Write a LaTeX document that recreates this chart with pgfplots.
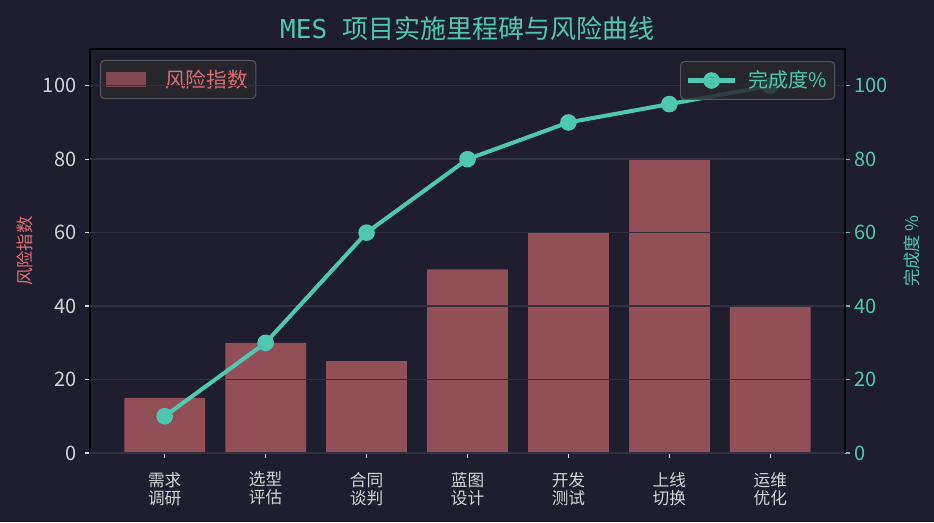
\documentclass[border=0pt]{standalone}
\usepackage{fontspec}
\setmainfont{Noto Sans CJK SC}
\newfontfamily\monofont{DejaVu Sans Mono}
\usepackage{pgfplots}
\pgfplotsset{compat=1.18}
\definecolor{bgc}{HTML}{1E1E2E}
\definecolor{barc}{HTML}{934F58}
\definecolor{tealc}{HTML}{4EC9B0}
\definecolor{redc}{HTML}{E06C75}
\definecolor{tickc}{HTML}{D4D4D4}
\definecolor{gridc}{RGB}{50,49,65}
\definecolor{legc}{RGB}{40,40,44}
\definecolor{legb}{RGB}{85,85,90}
\begin{document}
\begin{tikzpicture}
\fill[bgc] (0,0) rectangle (700.5pt,391.5pt);
\begin{axis}[
  at={(67.5pt,51.75pt)}, anchor=south west,
  scale only axis, width=566.25pt, height=303pt,
  xmin=-0.74, xmax=6.74, ymin=0, ymax=110,
  enlargelimits=false,
  axis line style={black, line width=1.1pt},
  tick align=outside,
  major tick length=3.75pt,
  xtick pos=bottom, ytick pos=left,
  every tick/.style={tickc, line width=1pt},
  xtick={0,1,2,3,4,5,6},
  xticklabels={{需求\\调研},{选型\\评估},{合同\\谈判},{蓝图\\设计},{开发\\测试},{上线\\切换},{运维\\优化}},
  xticklabel style={align=center, text=tickc, font=\fontsize{12.5}{13.5}\selectfont, yshift=-7pt},
  ytick={0,20,40,60,80,100},
  yticklabel style={text=tickc, font=\fontsize{15}{17}\selectfont, xshift=-3pt},
  /pgf/number format/assume math mode=true,
  ylabel={风险指数},
  ylabel style={at={(axis description cs:-0.086,0.5)}, anchor=center, text=redc, font=\fontsize{13}{15}\selectfont},
  title={{\monofont MES }项目实施里程碑与风险曲线},
  title style={at={(axis description cs:0.5,1.032)}, anchor=center, yshift=0pt, text=tealc, font=\fontsize{19.5}{22}\selectfont},
  legend style={at={(axis description cs:0.0132,0.973)}, anchor=north west,
    fill=legc, fill opacity=0.85, text opacity=1, draw=legb, line width=0.8pt,
    rounded corners=3pt, text=redc, font=\fontsize{15.5}{17}\selectfont,
    inner xsep=4pt, inner ysep=5pt},
]
\addplot[ybar, bar width=0.8, bar shift=0pt, fill=barc, draw=none,
  legend image code/.code={\path[draw=none,fill=none] (0pt,0pt) -- (42.5pt,0pt); \fill[barc, sharp corners] (0pt,-5.6pt) rectangle (30pt,5.6pt);}]
  coordinates {(0,15) (1,30) (2,25) (3,50) (4,60) (5,80) (6,40)};
\addlegendentry{风险指数}
\end{axis}
\begin{axis}[
  at={(67.5pt,51.75pt)}, anchor=south west,
  scale only axis, width=566.25pt, height=303pt,
  xmin=-0.74, xmax=6.74, ymin=0, ymax=110,
  enlargelimits=false,
  axis x line=none,
  axis y line*=right,
  axis line style={black, line width=1.1pt},
  tick align=outside,
  major tick length=3.75pt,
  every tick/.style={tealc, line width=1pt},
  ytick={0,20,40,60,80,100},
  ymajorgrids,
  grid style={gridc, line width=1.1pt},
  yticklabel style={text=tealc, font=\fontsize{15}{17}\selectfont},
  /pgf/number format/assume math mode=true,
  ylabel={完成度 \%},
  ylabel style={at={(axis description cs:1.0887,0.5)}, anchor=center, text=tealc, font=\fontsize{13}{15}\selectfont},
  legend style={at={(axis description cs:0.987,0.970)}, anchor=north east,
    fill=legc, fill opacity=0.85, text opacity=1, draw=legb, line width=0.8pt,
    rounded corners=3pt, text=tealc, font=\fontsize{15}{17}\selectfont,
    inner xsep=4pt, inner ysep=5pt},
]
\addplot[tealc, line width=3pt, mark=*, mark size=4.7pt, mark options={tealc, solid},
  legend image code/.code={\path[draw=none,fill=none] (0pt,0pt) -- (43pt,0pt); \draw[tealc, line width=3.5pt, sharp corners] (0pt,0pt) -- (35pt,0pt); \fill[tealc] (17.5pt,0pt) circle (4.7pt);}]
  coordinates {(0,10) (1,30) (2,60) (3,80) (4,90) (5,95) (6,100)};
\addlegendentry{完成度\%}
\end{axis}
\end{tikzpicture}
\end{document}
